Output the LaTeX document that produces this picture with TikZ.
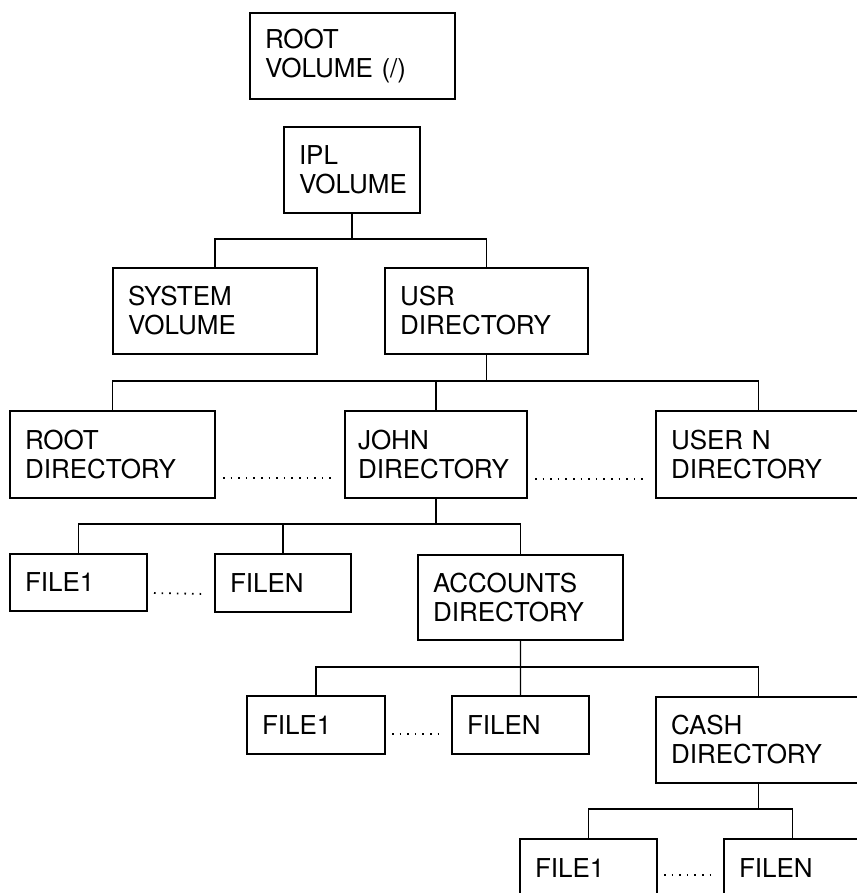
\documentclass[tikz,border=0pt]{standalone}
\usepackage{fontspec}
\setmainfont{TeX Gyre Heros}
\usetikzlibrary{calc}
\begin{document}
\begin{tikzpicture}[x=1bp,y=-1bp,
  box/.style={draw, line width=2bp, anchor=north west, align=left,
    inner xsep=15bp, inner ysep=0pt, font=\fontsize{26bp}{29bp}\selectfont},
  conn/.style={line width=1.2bp},
  dotline/.style={line width=1.8bp, dash pattern=on 1.6bp off 6bp}]
\fill[white] (0,0) rectangle (857,893);
\clip (0,0) rectangle (857,893);
% boxes
\node[box, text width=175bp, minimum height=86bp] (rootvol) at (249,12) {ROOT\\VOLUME (/)};
\node[box, text width=106bp, minimum height=86bp] (ipl) at (283,126) {IPL\\VOLUME};
\node[box, text width=174bp, minimum height=86bp] (system) at (112,267) {SYSTEM\\VOLUME};
\node[box, text width=173bp, minimum height=86bp] (usr) at (384,267) {USR\\DIRECTORY};
\node[box, text width=175bp, minimum height=87bp] (rootdir) at (9,410) {ROOT\\DIRECTORY};
\node[box, text width=156bp, inner xsep=13bp, minimum height=87bp] (john) at (344,410) {JOHN\\DIRECTORY};
\node[box, text width=175bp, minimum height=87bp] (usern) at (655,410) {USER N\\DIRECTORY};
\node[box, text width=107bp, minimum height=57bp] (f1) at (9,553) {FILE1};
\node[box, text width=106bp, minimum height=58bp] (fn) at (214,553) {FILEN};
\node[box, text width=175bp, minimum height=85bp] (acc) at (417,554) {ACCOUNTS\\DIRECTORY};
\node[box, text width=108bp, minimum height=58bp] (af1) at (246,695) {FILE1};
\node[box, text width=107bp, minimum height=58bp] (afn) at (451,695) {FILEN};
\node[box, text width=175bp, minimum height=86bp] (cash) at (655,696) {CASH\\DIRECTORY};
\node[box, text width=107bp, minimum height=58bp] (bf1) at (519,838) {FILE1};
\node[box, text width=107bp, minimum height=58bp] (bfn) at (723,838) {FILEN};
% bus levels
\coordinate (b1) at (0,239);
\coordinate (b2) at (0,381);
\coordinate (b3) at (0,524);
\coordinate (b4) at (0,667);
\coordinate (b5) at (0,809);
% connectors
\draw[conn] (ipl.south) -- (ipl.south |- b1);
\draw[conn] (system.north) |- (b1 -| usr.north) -- (usr.north);
\draw[conn] (usr.south) -- (usr.south |- b2);
\draw[conn] (rootdir.north) |- (b2 -| usern.north) -- (usern.north);
\draw[conn] (john.north) -- (john.north |- b2);
\draw[conn] (john.south) -- (john.south |- b3);
\draw[conn] (f1.north) |- (b3 -| acc.north) -- (acc.north);
\draw[conn] (fn.north) -- (fn.north |- b3);
\draw[conn] (acc.south) -- (afn.north);
\draw[conn] (af1.north) |- (b4 -| cash.north) -- (cash.north);
\draw[conn] (cash.south) -- (cash.south |- b5);
\draw[conn] (bf1.north) |- (b5 -| bfn.north) -- (bfn.north);
% dotted continuations
\draw[dotline] ($(rootdir.south east)+(7,-21)$) -- ($(john.south west)+(-8,-21)$);
\draw[dotline] ($(john.south east)+(7,-20)$) -- ($(usern.south west)+(-8,-20)$);
\draw[dotline] ($(f1.south east)+(6,-19)$) -- ($(fn.south west)+(-8,-19)$);
\draw[dotline] ($(af1.south east)+(6,-21)$) -- ($(afn.south west)+(-8,-21)$);
\draw[dotline] ($(bf1.north east)+(6,37)$) -- ($(bfn.north west)+(-8,37)$);
\end{tikzpicture}
\end{document}
